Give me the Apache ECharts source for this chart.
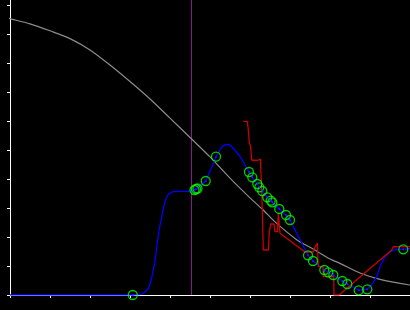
<!DOCTYPE html>
<html>
<head>
<meta charset="utf-8">
<script src="https://cdn.jsdelivr.net/npm/echarts@6/dist/echarts.min.js"></script>
<style>html,body{margin:0;padding:0;background:#000;}#c{width:410px;height:310px;}</style>
</head>
<body>
<div id="c"></div>
<script>
// Grey reference curve
var greyX = [-0.25, 0, 0.5, 1, 1.5, 2, 2.5, 3, 3.5, 4, 4.54, 5, 5.5, 6, 6.33, 6.625, 7.175, 7.625, 8, 8.25, 8.75, 9.25, 10];
var greyY = [9.62, 9.53, 9.35, 9.11, 8.84, 8.45, 7.93, 7.36, 6.76, 6.10, 5.38, 4.76, 4.03, 3.35, 2.93, 2.52, 1.90, 1.55, 1.24, 1.09, 0.76, 0.54, 0.345];
// Blue curve
var blueX = [0, 3.05, 3.25, 3.33, 3.4, 3.46, 3.5, 3.54, 3.58, 3.625, 3.667, 3.71, 3.75, 3.79, 3.83, 3.875, 3.917, 3.96, 4.02, 4.08, 4.25, 4.575, 4.65, 4.89, 5.025, 5.15, 5.25, 5.33, 5.42, 5.5, 5.625, 5.75, 5.875, 5.975, 6.06, 6.18, 6.23, 6.31, 6.43, 6.52, 6.56, 6.73, 6.9, 7.0, 7.45, 7.575, 7.86, 7.96, 8.08, 8.31, 8.43, 8.72, 8.93, 9.04, 9.17, 9.25, 9.375, 9.5, 9.67, 9.83, 10];
var blueY = [0, 0, 0.017, 0.059, 0.138, 0.231, 0.379, 0.576, 0.862, 1.148, 1.621, 2.069, 2.414, 2.645, 2.966, 3.217, 3.379, 3.472, 3.534, 3.562, 3.576, 3.576, 3.655, 3.931, 4.345, 4.769, 5.017, 5.148, 5.197, 5.172, 5.0, 4.769, 4.483, 4.241, 4.059, 3.828, 3.714, 3.586, 3.369, 3.252, 3.197, 2.966, 2.759, 2.586, 1.369, 1.172, 0.862, 0.783, 0.69, 0.483, 0.379, 0.162, 0.197, 0.345, 0.631, 0.976, 1.321, 1.493, 1.576, 1.576, 1.61];
// Red step curve
var redX = [5.8325, 5.9325, 5.9575, 5.9825, 6.0125, 6.025, 6.0425, 6.1825, 6.2175, 6.2625, 6.2675, 6.2925, 6.3075, 6.3325, 6.4575, 6.4825, 6.5175, 6.6, 6.625, 6.6875, 6.7075, 6.725, 6.75, 7.375, 7.5825, 7.6125, 7.6825, 7.7075, 7.7075, 7.825, 7.8325, 8.0925, 8.1, 8.225, 9.5425, 9.5825, 10];
var redY = [5.99, 5.99, 5.69, 5.241, 5.138, 4.941, 4.655, 4.638, 4.69, 4.69, 4.424, 3.621, 2.931, 1.552, 1.552, 2.172, 2.448, 2.448, 2.183, 2.183, 2.817, 2.817, 2.128, 1.483, 1.483, 1.621, 1.793, 1.793, 0.976, 0.976, 0.631, 0.631, 0, 0, 1.552, 1.666, 1.666];
// Green markers
var ptX = [3.068, 4.6125, 4.65, 4.6875, 4.8925, 5.15, 5.975, 6.0575, 6.1825, 6.2325, 6.3075, 6.4325, 6.5175, 6.5575, 6.7325, 6.9, 7.0, 7.45, 7.575, 7.8575, 7.9575, 8.0825, 8.3075, 8.4325, 8.7175, 8.9325, 9.8325];
var ptY = [0, 3.62, 3.655, 3.672, 3.931, 4.769, 4.241, 4.059, 3.828, 3.714, 3.586, 3.369, 3.252, 3.197, 2.966, 2.759, 2.586, 1.369, 1.172, 0.862, 0.783, 0.69, 0.483, 0.379, 0.162, 0.197, 1.576];
// Axis tick values
var xTicks = [0, 1, 2, 3, 4, 5, 6, 7, 8, 9, 10];
var yTicks = [0, 1, 2, 3, 4, 5, 6, 7, 8, 9, 10];
// Vertical marker
var vlineX = 4.5375;
var yTop = 10.172;

function zip(a, b) { return a.map(function (v, i) { return [v, b[i]]; }); }

var chart = echarts.init(document.getElementById('c'), null, { renderer: 'canvas' });
chart.setOption({
  backgroundColor: '#000',
  animation: false,
  grid: { left: 10, right: 0, bottom: 15, top: 0 },
  xAxis: {
    type: 'value', min: 0, max: 10,
    axisLine: { show: true, onZero: false, lineStyle: { color: '#fff', width: 1 } },
    axisTick: { show: true, length: 3, customValues: xTicks, lineStyle: { color: '#fff', width: 1 } },
    axisLabel: { show: false },
    splitLine: { show: false }
  },
  yAxis: {
    type: 'value', min: 0, max: yTop,
    axisLine: { show: true, onZero: false, lineStyle: { color: '#fff', width: 1 } },
    axisTick: { show: true, length: 3, customValues: yTicks, lineStyle: { color: '#fff', width: 1 } },
    axisLabel: { show: false },
    splitLine: { show: false }
  },
  series: [
    { type: 'line', data: [[vlineX, 0], [vlineX, yTop]], showSymbol: false, symbol: 'none',
      lineStyle: { color: '#8a1a8a', width: 1 }, z: 1 },
    { type: 'line', data: zip(greyX, greyY), showSymbol: false, symbol: 'none', smooth: 0.3, clip: false,
      lineStyle: { color: '#8c8c8c', width: 1.2 }, z: 2 },
    { type: 'line', data: zip(blueX, blueY), showSymbol: false, symbol: 'none',
      lineStyle: { color: '#0000ff', width: 1.3 }, z: 3 },
    { type: 'line', data: zip(redX, redY), showSymbol: false, symbol: 'none',
      lineStyle: { color: '#cc0000', width: 1.3 }, z: 4 },
    { type: 'scatter', data: zip(ptX, ptY), symbol: 'circle', symbolSize: 9,
      itemStyle: { color: 'rgba(0,0,0,0)', borderColor: '#00ff00', borderWidth: 1.3 }, z: 5 },
    { type: 'scatter', data: zip(ptX, ptY), symbol: 'circle', symbolSize: 2,
      itemStyle: { color: '#2020ff' }, z: 6 }
  ]
});
</script>
</body>
</html>
